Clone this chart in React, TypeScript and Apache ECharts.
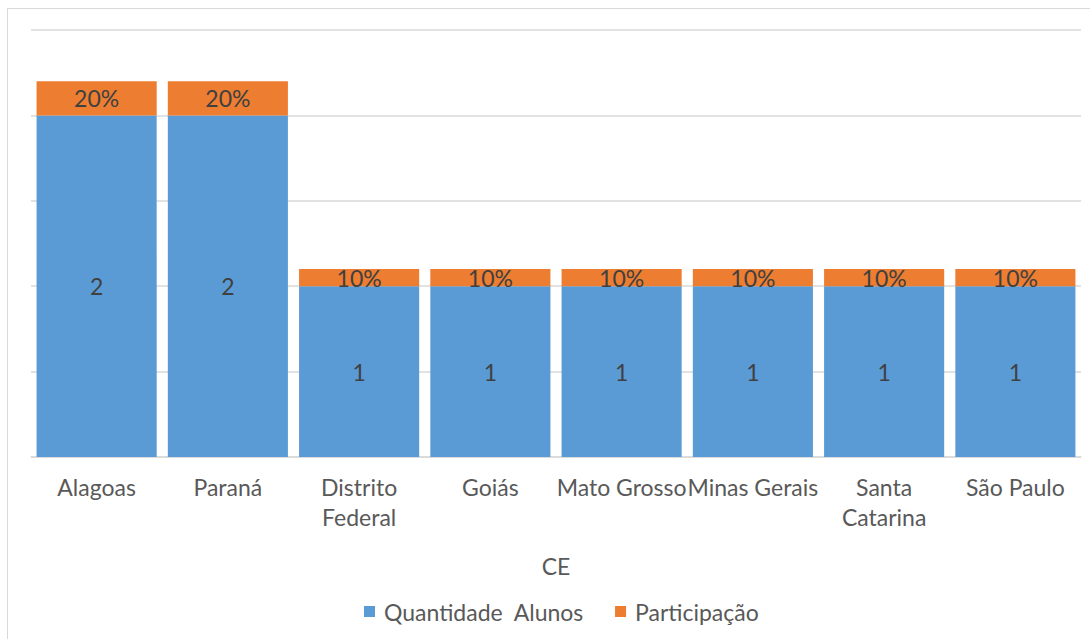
import React, { useEffect, useRef } from "react";
import * as echarts from "echarts";

const categories = [
  "Alagoas",
  "Paraná",
  "Distrito\nFederal",
  "Goiás",
  "Mato Grosso",
  "Minas Gerais",
  "Santa\nCatarina",
  "São Paulo",
];
const quantidadeAlunos = [2, 2, 1, 1, 1, 1, 1, 1];
const participacao = [0.2, 0.2, 0.1, 0.1, 0.1, 0.1, 0.1, 0.1];
const seriesNames = ["Quantidade  Alunos", "Participação"];
const axisName = "CE";

const FONT = "Lato";
const TEXT = "#595959";
const FS = 23;

export default function App() {
  const ref = useRef<HTMLDivElement>(null);
  useEffect(() => {
    if (!ref.current) return;
    const chart = echarts.init(ref.current, undefined, { renderer: "svg" });
    chart.setOption({
      animation: false,
      backgroundColor: "#ffffff",
      textStyle: { fontFamily: FONT },
      graphic: [
        {
          type: "rect",
          shape: { x: 7.5, y: 8.5, width: 1200, height: 800 },
          style: { fill: "none", stroke: "#D9D9D9", lineWidth: 1 },
          silent: true,
        },
      ],
      grid: { left: 31, right: 9, top: 30, bottom: 182 },
      legend: {
        bottom: 16,
        left: 364,
        padding: 0,
        itemWidth: 11,
        itemHeight: 11,
        itemGap: 31,
        icon: "rect",
        textStyle: { color: TEXT, fontSize: FS, fontFamily: FONT, padding: [0, 0, 0, 4] },
        data: seriesNames,
      },
      xAxis: {
        type: "category",
        data: categories,
        name: axisName,
        nameLocation: "middle",
        nameGap: 97,
        nameTextStyle: { color: TEXT, fontSize: FS, fontFamily: FONT },
        axisLine: { lineStyle: { color: "#D9D9D9", width: 1.5 } },
        axisTick: { show: false },
        axisLabel: {
          color: TEXT,
          fontSize: FS,
          fontFamily: FONT,
          lineHeight: 30,
          margin: 15,
          interval: 0,
        },
      },
      yAxis: {
        type: "value",
        min: 0,
        max: 2.5,
        interval: 0.5,
        axisLabel: { show: false },
        axisLine: { show: false },
        axisTick: { show: false },
        splitLine: { lineStyle: { color: "#D9D9D9", width: 1.5 } },
      },
      series: [
        {
          name: seriesNames[0],
          type: "bar",
          stack: "total",
          data: quantidadeAlunos,
          barCategoryGap: "8.5%",
          itemStyle: { color: "#5B9BD5" },
          label: {
            show: true,
            position: "inside",
            color: "#404040",
            fontSize: FS,
            fontFamily: FONT,
          },
        },
        {
          name: seriesNames[1],
          type: "bar",
          stack: "total",
          data: participacao,
          barCategoryGap: "8.5%",
          itemStyle: { color: "#ED7D31" },
          label: {
            show: true,
            position: "inside",
            color: "#404040",
            fontSize: FS,
            fontFamily: FONT,
            formatter: (p: any) => Math.round(p.value * 100) + "%",
          },
        },
      ],
    });
    return () => chart.dispose();
  }, []);
  return (
    <div
      ref={ref}
      style={{ position: "absolute", left: 0, top: 0, width: 1090, height: 639 }}
    />
  );
}
